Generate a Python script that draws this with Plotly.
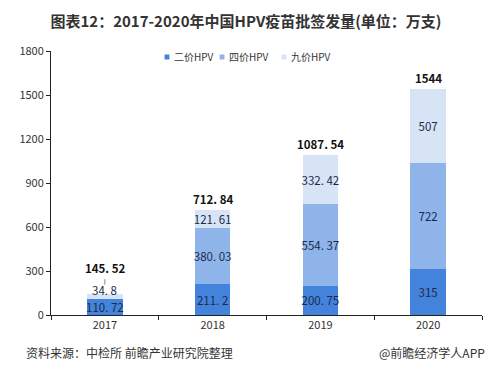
import plotly.graph_objects as go

years = ["2017", "2018", "2019", "2020"]
bivalent = [110.72, 211.2, 200.75, 315]
quadrivalent = [0, 380.03, 554.37, 722]
nonavalent = [34.8, 121.61, 332.42, 507]
totals = [145.52, 712.84, 1087.54, 1544]
total_labels = ["145. 52", "712. 84", "1087. 54", "1544"]
y_ticks = [0, 300, 600, 900, 1200, 1500, 1800]
series_names = ["二价HPV", "四价HPV", "九价HPV"]
series_colors = ["#4483dc", "#8fb4ea", "#d7e4f6"]

FONT = "Noto Sans CJK SC"
W, H = 485, 370
ML, MR, MT, MB = 28, 11, 43, 63
PW, PH = W - ML - MR, H - MT - MB

def fmt(v):
    s = f"{v:g}"
    return s.replace(".", ". ")

fig = go.Figure()
for name, vals, color in zip(series_names, [bivalent, quadrivalent, nonavalent], series_colors):
    texts = []
    for i, v in enumerate(vals):
        if v == 0 or (name == "九价HPV" and i == 0):
            texts.append("")
        else:
            texts.append(fmt(v))
    fig.add_trace(go.Bar(
        x=years, y=vals, name=name, marker_color=color, marker_line_width=0,
        text=texts, textposition="inside", insidetextanchor="middle",
        constraintext="none", textangle=0,
        textfont=dict(size=11.5, color="#1c2a4a", family=FONT),
        width=0.33, showlegend=False,
    ))

# 2017 nine-valent label sits at the top of the small segment, with a leader line
fig.add_annotation(x=0, y=totals[0], text=fmt(nonavalent[0]), showarrow=False,
                   yshift=4, font=dict(size=11.5, color="#1c2a4a", family=FONT))
fig.add_annotation(x=0, y=totals[0], ax=0, ay=-7, axref="pixel", ayref="pixel",
                   showarrow=True, arrowhead=0, arrowwidth=0.8, arrowcolor="#666",
                   text="", standoff=0, yshift=9)

for i, (t, lab) in enumerate(zip(totals, total_labels)):
    yshift = 26 if i == 0 else 11
    fig.add_annotation(x=i, y=t, text=f"<b>{lab}</b>", showarrow=False, yshift=yshift,
                       font=dict(size=11.5, color="#111", family=FONT))

# manual legend (small squares + labels)
leg_sq_px = [148, 205, 269]
leg_y = (PH - (49 - MT)) / PH
for name, color, px in zip(series_names, series_colors, leg_sq_px):
    cx = (px - ML) / PW
    fig.add_shape(type="rect", xref="paper", yref="paper",
                  x0=cx - 2.5 / PW, x1=cx + 2.5 / PW, y0=leg_y - 2.5 / PH, y1=leg_y + 2.5 / PH,
                  fillcolor=color, line_width=0)
    fig.add_annotation(xref="paper", yref="paper", x=cx + 5 / PW, y=leg_y, xanchor="left",
                       yanchor="middle", showarrow=False, text=name,
                       font=dict(size=10, color="#333", family=FONT))

fig.update_layout(
    barmode="stack",
    width=W, height=H,
    margin=dict(l=ML, r=MR, t=MT, b=MB),
    paper_bgcolor="white", plot_bgcolor="white",
    font=dict(family=FONT, color="#333"),
    showlegend=False,
    title=dict(text="<b>图表12：2017-2020年中国HPV疫苗批签发量(单位：万支)</b>",
               x=(246 - 8) / W, xanchor="center", y=1 - 14 / H, yanchor="middle",
               font=dict(size=15, color="#333", family=FONT)),
)
fig.update_xaxes(type="category", range=[-0.5, 3.5], showline=True, linecolor="#222",
                 linewidth=1, ticks="outside", tickson="boundaries", ticklen=4, tickcolor="#222",
                 tickfont=dict(size=11, color="#333", family=FONT), showgrid=False)
fig.update_yaxes(range=[0, 1800], tickvals=y_ticks, showline=True, linecolor="#222",
                 linewidth=1, ticks="outside", ticklen=4, tickcolor="#222",
                 tickfont=dict(size=11, color="#333", family=FONT), showgrid=False,
                 zeroline=False)

fig.add_annotation(xref="paper", yref="paper", x=-ML / PW, y=-37 / PH, xanchor="left",
                   yanchor="middle", showarrow=False, text="资料来源：中检所 前瞻产业研究院整理",
                   font=dict(size=12, color="#333", family=FONT))
fig.add_annotation(xref="paper", yref="paper", x=(479 - ML) / PW, y=-37 / PH, xanchor="right",
                   yanchor="middle", showarrow=False, text="@前瞻经济学人APP",
                   font=dict(size=12, color="#333", family=FONT))

fig.write_html("out.html")
